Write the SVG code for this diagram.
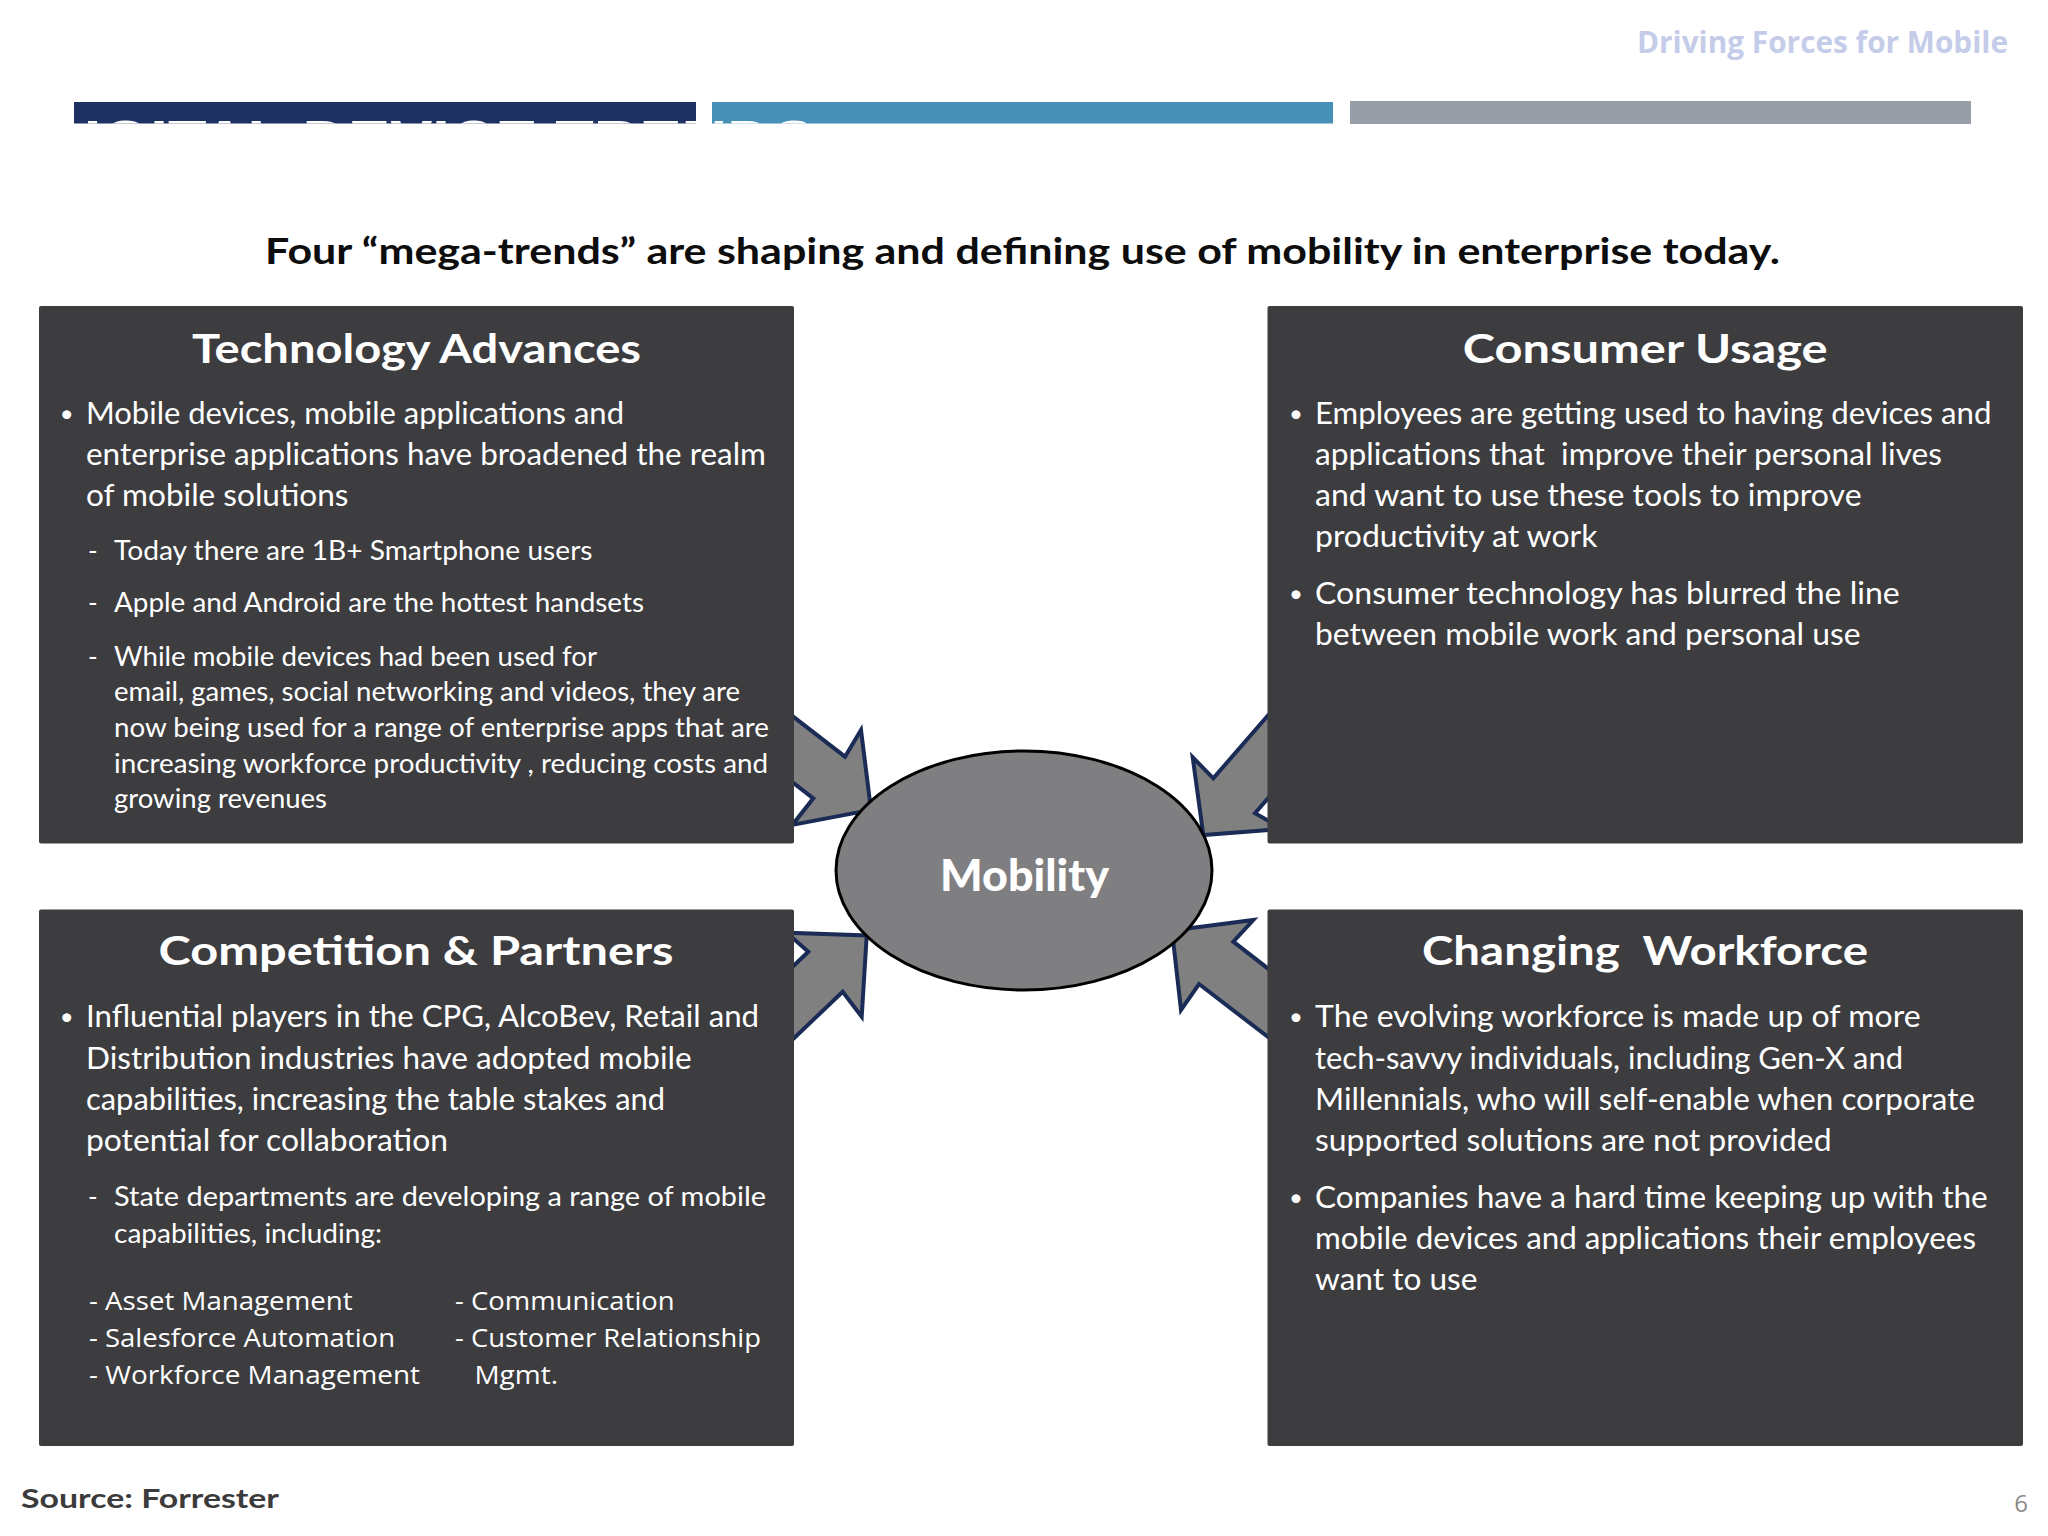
<svg xmlns="http://www.w3.org/2000/svg" width="2048" height="1536" viewBox="0 0 2048 1536">
  <defs>
    <style>
      .box { fill: #3d3c3f; }
      .arrow { fill: #808080; stroke: #1a2b55; stroke-width: 4; stroke-linejoin: miter; }
      .hd { font-family: Lato, "Open Sans", "Liberation Sans", sans-serif; font-weight: 700; font-size: 40px; fill: #ffffff; }
      .bt { font-family: Lato, "Open Sans", "Liberation Sans", sans-serif; font-size: 30px; fill: #ffffff; white-space: pre; }
      .sb { font-family: Lato, "Open Sans", "Liberation Sans", sans-serif; font-size: 26px; fill: #ffffff; white-space: pre; }
      .ls { font-family: "Open Sans", "Liberation Sans", sans-serif; font-size: 26px; fill: #ffffff; }
      .dot { font-family: Lato, "Liberation Sans", sans-serif; font-size: 24px; fill: #ffffff; text-anchor: middle; }
    </style>
    <clipPath id="barclip">
      <rect x="0" y="95" width="2048" height="28.5"/>
    </clipPath>
  </defs>

  <rect x="0" y="0" width="2048" height="1536" fill="#ffffff"/>

  <!-- header -->
  <g id="header">
    <text x="1637" y="52.5" font-family="'Open Sans', 'Liberation Sans', sans-serif" font-weight="700" font-size="29.5" fill="#c5cce9" textLength="371" lengthAdjust="spacingAndGlyphs">Driving Forces for Mobile</text>
    <rect x="74" y="102" width="622" height="21.5" fill="#1e3163"/>
    <rect x="712" y="102" width="621" height="21.5" fill="#4690b8"/>
    <rect x="1350" y="101" width="621" height="23" fill="#989ea8"/>
    <text x="38" y="162" clip-path="url(#barclip)" font-family="'Liberation Sans', Arial, sans-serif" font-weight="700" font-size="60" fill="#ffffff" textLength="777" lengthAdjust="spacingAndGlyphs">DIGITAL DEVICE TRENDS</text>
    <text x="265" y="264" font-family="Lato, 'Liberation Sans', sans-serif" font-weight="700" font-size="37" fill="#0d0d0d" textLength="1515" lengthAdjust="spacingAndGlyphs">Four “mega-trends” are shaping and defining use of mobility in enterprise today.</text>
  </g>

  <!-- connectors (block arrows) -->
  <g id="connectors">
    <polygon class="arrow" points="871,810 861,730 845,756.7 740,675.4 740,741.6 813.3,798.3 792.4,824.9"/>
    <polygon class="arrow" points="1203.3,835 1192.7,757.3 1213.3,778.3 1320,655.5 1320,738.5 1255,813.3 1283.1,828.9"/>
    <polygon class="arrow" points="866.7,935.5 861.7,1016.7 842.7,991.7 740,1089.7 740,1016.9 808.3,951.7 786.8,932.7"/>
    <polygon class="arrow" points="1172,930.4 1253.3,920 1233.3,941.7 1320,1008.8 1320,1076.9 1199,984 1181,1010"/>
  </g>

  <!-- Technology Advances -->
  <g id="node-technology">
    <rect class="box" x="39" y="306" width="755" height="537.5" rx="2"/>
    <text class="hd" x="192" y="363" textLength="449" lengthAdjust="spacingAndGlyphs">Technology Advances</text>
    <text class="dot" x="66.7" y="421.5">•</text>
    <text class="bt" x="86" y="423.5" textLength="538" lengthAdjust="spacingAndGlyphs">Mobile devices, mobile applications and</text>
    <text class="bt" x="86" y="464.5" textLength="680" lengthAdjust="spacingAndGlyphs">enterprise applications have broadened the realm</text>
    <text class="bt" x="86" y="505.5" textLength="262.5" lengthAdjust="spacingAndGlyphs">of mobile solutions</text>
    <text class="sb" x="88" y="559.5">-</text>
    <text class="sb" x="114" y="559.5" textLength="478.5" lengthAdjust="spacingAndGlyphs">Today there are 1B+ Smartphone users</text>
    <text class="sb" x="88" y="612">-</text>
    <text class="sb" x="114" y="612" textLength="530" lengthAdjust="spacingAndGlyphs">Apple and Android are the hottest handsets</text>
    <text class="sb" x="88" y="665.5">-</text>
    <text class="sb" x="114" y="665.5" textLength="483" lengthAdjust="spacingAndGlyphs">While mobile devices had been used for</text>
    <text class="sb" x="114" y="701" textLength="626" lengthAdjust="spacingAndGlyphs">email, games, social networking and videos, they are</text>
    <text class="sb" x="114" y="737" textLength="655" lengthAdjust="spacingAndGlyphs">now being used for a range of enterprise apps that are</text>
    <text class="sb" x="114" y="772.5" textLength="654" lengthAdjust="spacingAndGlyphs">increasing workforce productivity , reducing costs and</text>
    <text class="sb" x="114" y="808" textLength="213" lengthAdjust="spacingAndGlyphs">growing revenues</text>
  </g>

  <!-- Consumer Usage -->
  <g id="node-consumer">
    <rect class="box" x="1267.5" y="306" width="755.5" height="537.5" rx="2"/>
    <text class="hd" x="1462.7" y="363" textLength="365" lengthAdjust="spacingAndGlyphs">Consumer Usage</text>
    <text class="dot" x="1296" y="421.5">•</text>
    <text class="bt" x="1315" y="423.5" textLength="676.4" lengthAdjust="spacingAndGlyphs">Employees are getting used to having devices and</text>
    <text class="bt" x="1315" y="464.5" textLength="627" lengthAdjust="spacingAndGlyphs">applications that  improve their personal lives</text>
    <text class="bt" x="1315" y="505.5" textLength="546.6" lengthAdjust="spacingAndGlyphs">and want to use these tools to improve</text>
    <text class="bt" x="1315" y="546.5" textLength="282.4" lengthAdjust="spacingAndGlyphs">productivity at work</text>
    <text class="dot" x="1296" y="601.5">•</text>
    <text class="bt" x="1315" y="603.5" textLength="584.7" lengthAdjust="spacingAndGlyphs">Consumer technology has blurred the line</text>
    <text class="bt" x="1315" y="644.5" textLength="545.6" lengthAdjust="spacingAndGlyphs">between mobile work and personal use</text>
  </g>

  <!-- Competition & Partners -->
  <g id="node-competition">
    <rect class="box" x="39" y="909.5" width="755" height="536.5" rx="2"/>
    <text class="hd" x="158.5" y="965" textLength="515" lengthAdjust="spacingAndGlyphs">Competition &amp; Partners</text>
    <text class="dot" x="66.7" y="1025">•</text>
    <text class="bt" x="86" y="1027" textLength="673" lengthAdjust="spacingAndGlyphs">Influential players in the CPG, AlcoBev, Retail and</text>
    <text class="bt" x="86" y="1068.5" textLength="605.7" lengthAdjust="spacingAndGlyphs">Distribution industries have adopted mobile</text>
    <text class="bt" x="86" y="1109.5" textLength="579" lengthAdjust="spacingAndGlyphs">capabilities, increasing the table stakes and</text>
    <text class="bt" x="86" y="1150.5" textLength="362" lengthAdjust="spacingAndGlyphs">potential for collaboration</text>
    <text class="sb" x="88" y="1205.5">-</text>
    <text class="sb" x="114" y="1205.5" textLength="652" lengthAdjust="spacingAndGlyphs">State departments are developing a range of mobile</text>
    <text class="sb" x="114" y="1242.5" textLength="268" lengthAdjust="spacingAndGlyphs">capabilities, including:</text>
    <text class="ls" x="89" y="1310" textLength="263.6" lengthAdjust="spacingAndGlyphs">- Asset Management</text>
    <text class="ls" x="89" y="1347" textLength="306" lengthAdjust="spacingAndGlyphs">- Salesforce Automation</text>
    <text class="ls" x="89" y="1384" textLength="331" lengthAdjust="spacingAndGlyphs">- Workforce Management</text>
    <text class="ls" x="455" y="1310" textLength="219.7" lengthAdjust="spacingAndGlyphs">- Communication</text>
    <text class="ls" x="455" y="1347" textLength="306" lengthAdjust="spacingAndGlyphs">- Customer Relationship</text>
    <text class="ls" x="474.4" y="1384" textLength="83.7" lengthAdjust="spacingAndGlyphs">Mgmt.</text>
  </g>

  <!-- Changing Workforce -->
  <g id="node-workforce">
    <rect class="box" x="1267.5" y="909.5" width="755.5" height="536.5" rx="2"/>
    <text class="hd" x="1422" y="965" textLength="446" lengthAdjust="spacingAndGlyphs" style="white-space:pre">Changing  Workforce</text>
    <text class="dot" x="1296" y="1025">•</text>
    <text class="bt" x="1315" y="1027" textLength="605.6" lengthAdjust="spacingAndGlyphs">The evolving workforce is made up of more</text>
    <text class="bt" x="1315" y="1068.5" textLength="588" lengthAdjust="spacingAndGlyphs">tech-savvy individuals, including Gen-X and</text>
    <text class="bt" x="1315" y="1109.5" textLength="660" lengthAdjust="spacingAndGlyphs">Millennials, who will self-enable when corporate</text>
    <text class="bt" x="1315" y="1150.5" textLength="516.6" lengthAdjust="spacingAndGlyphs">supported solutions are not provided</text>
    <text class="dot" x="1296" y="1206">•</text>
    <text class="bt" x="1315" y="1208" textLength="672.8" lengthAdjust="spacingAndGlyphs">Companies have a hard time keeping up with the</text>
    <text class="bt" x="1315" y="1249" textLength="661" lengthAdjust="spacingAndGlyphs">mobile devices and applications their employees</text>
    <text class="bt" x="1315" y="1290" textLength="162.4" lengthAdjust="spacingAndGlyphs">want to use</text>
  </g>

  <!-- Mobility -->
  <g id="node-mobility">
    <ellipse cx="1024" cy="870.5" rx="188" ry="119.5" fill="#7f7e81" stroke="#000000" stroke-width="3"/>
    <text x="940" y="891" font-family="Lato, 'Open Sans', sans-serif" font-weight="900" font-size="43" fill="#ffffff" textLength="169" lengthAdjust="spacingAndGlyphs">Mobility</text>
  </g>

  <!-- footer -->
  <g id="footer">
    <text x="21" y="1508" font-family="Lato, 'Liberation Sans', sans-serif" font-weight="700" font-size="27" fill="#3b3b3b" textLength="258" lengthAdjust="spacingAndGlyphs">Source: Forrester</text>
    <text x="2021" y="1512" text-anchor="middle" font-family="'Open Sans', 'Liberation Sans', sans-serif" font-size="24" fill="#8a8a8a">6</text>
  </g>
</svg>
